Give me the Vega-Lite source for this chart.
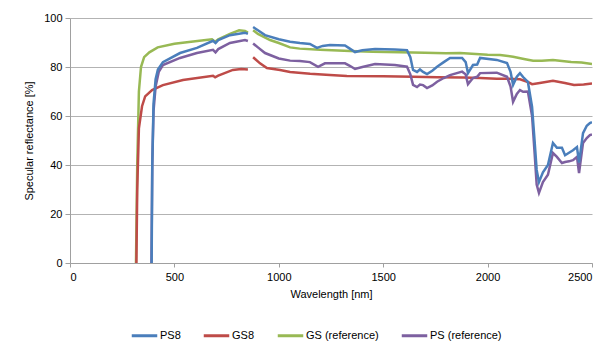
{
  "$schema": "https://vega.github.io/schema/vega-lite/v6.json",
  "width": 522,
  "height": 245,
  "autosize": {"type": "none"},
  "padding": {"left": 70, "top": 18, "right": 19, "bottom": 81},
  "background": "white",
  "config": {
    "font": "Liberation Sans",
    "view": {"stroke": null},
    "axis": {"labelFont": "Liberation Sans", "titleFont": "Liberation Sans", "labelFontSize": 11, "titleFontSize": 11, "titleFontWeight": "normal", "labelColor": "#000", "titleColor": "#000", "domainColor": "#a0a0a0", "tickColor": "#a0a0a0"}
  },
  "datasets": {
    "spec": [
      {"s":"GS (reference)","p":1,"x":316,"y":0},{"s":"GS (reference)","p":1,"x":322,"y":40},{"s":"GS (reference)","p":1,"x":330,"y":70},{"s":"GS (reference)","p":1,"x":340,"y":80},{"s":"GS (reference)","p":1,"x":355,"y":84},{"s":"GS (reference)","p":1,"x":380,"y":86},{"s":"GS (reference)","p":1,"x":420,"y":88},{"s":"GS (reference)","p":1,"x":500,"y":89.5},{"s":"GS (reference)","p":1,"x":600,"y":90.5},{"s":"GS (reference)","p":1,"x":680,"y":91.3},{"s":"GS (reference)","p":1,"x":695,"y":90.3},{"s":"GS (reference)","p":1,"x":710,"y":91.3},{"s":"GS (reference)","p":1,"x":766,"y":93.5},{"s":"GS (reference)","p":1,"x":810,"y":95},{"s":"GS (reference)","p":1,"x":838,"y":94.7},{"s":"GS (reference)","p":1,"x":852,"y":94},
      {"s":"GS (reference)","p":2,"x":877,"y":95},{"s":"GS (reference)","p":2,"x":900,"y":93.5},{"s":"GS (reference)","p":2,"x":958,"y":91},{"s":"GS (reference)","p":2,"x":1000,"y":89.8},{"s":"GS (reference)","p":2,"x":1054,"y":88},{"s":"GS (reference)","p":2,"x":1100,"y":87.5},{"s":"GS (reference)","p":2,"x":1197,"y":87},{"s":"GS (reference)","p":2,"x":1341,"y":86.5},{"s":"GS (reference)","p":2,"x":1450,"y":86.2},{"s":"GS (reference)","p":2,"x":1580,"y":86},{"s":"GS (reference)","p":2,"x":1700,"y":85.8},{"s":"GS (reference)","p":2,"x":1800,"y":85.6},{"s":"GS (reference)","p":2,"x":1868,"y":85.7},{"s":"GS (reference)","p":2,"x":2000,"y":85},{"s":"GS (reference)","p":2,"x":2060,"y":84.9},{"s":"GS (reference)","p":2,"x":2122,"y":84.2},{"s":"GS (reference)","p":2,"x":2180,"y":83.2},{"s":"GS (reference)","p":2,"x":2218,"y":82.6},{"s":"GS (reference)","p":2,"x":2260,"y":82.6},{"s":"GS (reference)","p":2,"x":2313,"y":82.9},{"s":"GS (reference)","p":2,"x":2400,"y":82},{"s":"GS (reference)","p":2,"x":2450,"y":81.8},{"s":"GS (reference)","p":2,"x":2500,"y":81.2},

      {"s":"GS8","p":1,"x":318,"y":0},{"s":"GS8","p":1,"x":322,"y":30},{"s":"GS8","p":1,"x":330,"y":55},{"s":"GS8","p":1,"x":345,"y":64},{"s":"GS8","p":1,"x":360,"y":68},{"s":"GS8","p":1,"x":393,"y":70.6},{"s":"GS8","p":1,"x":445,"y":72.6},{"s":"GS8","p":1,"x":541,"y":74.7},{"s":"GS8","p":1,"x":685,"y":76.4},{"s":"GS8","p":1,"x":695,"y":75.8},{"s":"GS8","p":1,"x":710,"y":76.5},{"s":"GS8","p":1,"x":780,"y":78.8},{"s":"GS8","p":1,"x":820,"y":79.2},{"s":"GS8","p":1,"x":852,"y":79},
      {"s":"GS8","p":2,"x":877,"y":84},{"s":"GS8","p":2,"x":910,"y":81.5},{"s":"GS8","p":2,"x":943,"y":79.6},{"s":"GS8","p":2,"x":1006,"y":78.8},{"s":"GS8","p":2,"x":1054,"y":78},{"s":"GS8","p":2,"x":1150,"y":77.2},{"s":"GS8","p":2,"x":1245,"y":76.7},{"s":"GS8","p":2,"x":1326,"y":76.3},{"s":"GS8","p":2,"x":1500,"y":76.2},{"s":"GS8","p":2,"x":1643,"y":76},{"s":"GS8","p":2,"x":1760,"y":75.8},{"s":"GS8","p":2,"x":1883,"y":75.7},{"s":"GS8","p":2,"x":1964,"y":75.5},{"s":"GS8","p":2,"x":2044,"y":75.2},{"s":"GS8","p":2,"x":2100,"y":75.2},{"s":"GS8","p":2,"x":2155,"y":75},{"s":"GS8","p":2,"x":2190,"y":74},{"s":"GS8","p":2,"x":2213,"y":73},{"s":"GS8","p":2,"x":2250,"y":73.5},{"s":"GS8","p":2,"x":2313,"y":74.4},{"s":"GS8","p":2,"x":2370,"y":73.5},{"s":"GS8","p":2,"x":2414,"y":72.7},{"s":"GS8","p":2,"x":2460,"y":72.9},{"s":"GS8","p":2,"x":2500,"y":73.3},

      {"s":"PS (reference)","p":1,"x":390,"y":0},{"s":"PS (reference)","p":1,"x":394,"y":40},{"s":"PS (reference)","p":1,"x":400,"y":62},{"s":"PS (reference)","p":1,"x":410,"y":72},{"s":"PS (reference)","p":1,"x":425,"y":78},{"s":"PS (reference)","p":1,"x":445,"y":80.8},{"s":"PS (reference)","p":1,"x":527,"y":83.7},{"s":"PS (reference)","p":1,"x":608,"y":85.7},{"s":"PS (reference)","p":1,"x":685,"y":87},{"s":"PS (reference)","p":1,"x":697,"y":86},{"s":"PS (reference)","p":1,"x":710,"y":87.3},{"s":"PS (reference)","p":1,"x":766,"y":89.8},{"s":"PS (reference)","p":1,"x":838,"y":91},{"s":"PS (reference)","p":1,"x":852,"y":90.6},
      {"s":"PS (reference)","p":2,"x":877,"y":89.6},{"s":"PS (reference)","p":2,"x":900,"y":88},{"s":"PS (reference)","p":2,"x":934,"y":85.7},{"s":"PS (reference)","p":2,"x":1000,"y":83.5},{"s":"PS (reference)","p":2,"x":1054,"y":82.6},{"s":"PS (reference)","p":2,"x":1101,"y":82.4},{"s":"PS (reference)","p":2,"x":1149,"y":82},{"s":"PS (reference)","p":2,"x":1188,"y":80.1},{"s":"PS (reference)","p":2,"x":1221,"y":81.5},{"s":"PS (reference)","p":2,"x":1317,"y":81.5},{"s":"PS (reference)","p":2,"x":1340,"y":80.5},{"s":"PS (reference)","p":2,"x":1365,"y":79.2},{"s":"PS (reference)","p":2,"x":1400,"y":80},{"s":"PS (reference)","p":2,"x":1461,"y":81.2},{"s":"PS (reference)","p":2,"x":1556,"y":80.8},{"s":"PS (reference)","p":2,"x":1614,"y":80.1},{"s":"PS (reference)","p":2,"x":1630,"y":77},{"s":"PS (reference)","p":2,"x":1643,"y":72.7},{"s":"PS (reference)","p":2,"x":1662,"y":71.8},{"s":"PS (reference)","p":2,"x":1676,"y":72.8},{"s":"PS (reference)","p":2,"x":1691,"y":72.6},{"s":"PS (reference)","p":2,"x":1710,"y":71.4},{"s":"PS (reference)","p":2,"x":1735,"y":72.5},{"s":"PS (reference)","p":2,"x":1758,"y":74},{"s":"PS (reference)","p":2,"x":1790,"y":75.5},{"s":"PS (reference)","p":2,"x":1820,"y":76.7},{"s":"PS (reference)","p":2,"x":1878,"y":78.1},{"s":"PS (reference)","p":2,"x":1895,"y":77},{"s":"PS (reference)","p":2,"x":1906,"y":73},{"s":"PS (reference)","p":2,"x":1930,"y":75.5},{"s":"PS (reference)","p":2,"x":1950,"y":76},{"s":"PS (reference)","p":2,"x":1964,"y":77.5},{"s":"PS (reference)","p":2,"x":2044,"y":77.7},{"s":"PS (reference)","p":2,"x":2093,"y":76},{"s":"PS (reference)","p":2,"x":2110,"y":72},{"s":"PS (reference)","p":2,"x":2122,"y":65.8},{"s":"PS (reference)","p":2,"x":2140,"y":69},{"s":"PS (reference)","p":2,"x":2155,"y":70.6},{"s":"PS (reference)","p":2,"x":2170,"y":69.9},{"s":"PS (reference)","p":2,"x":2193,"y":70},{"s":"PS (reference)","p":2,"x":2213,"y":60},{"s":"PS (reference)","p":2,"x":2225,"y":45},{"s":"PS (reference)","p":2,"x":2235,"y":32},{"s":"PS (reference)","p":2,"x":2246,"y":28.6},{"s":"PS (reference)","p":2,"x":2265,"y":33},{"s":"PS (reference)","p":2,"x":2289,"y":36},{"s":"PS (reference)","p":2,"x":2313,"y":44.9},{"s":"PS (reference)","p":2,"x":2332,"y":43.3},{"s":"PS (reference)","p":2,"x":2356,"y":40.8},{"s":"PS (reference)","p":2,"x":2371,"y":41.2},{"s":"PS (reference)","p":2,"x":2390,"y":41.5},{"s":"PS (reference)","p":2,"x":2409,"y":42},{"s":"PS (reference)","p":2,"x":2428,"y":43.3},{"s":"PS (reference)","p":2,"x":2438,"y":36.7},{"s":"PS (reference)","p":2,"x":2457,"y":49},{"s":"PS (reference)","p":2,"x":2475,"y":51},{"s":"PS (reference)","p":2,"x":2490,"y":52.2},{"s":"PS (reference)","p":2,"x":2500,"y":52.5},

      {"s":"PS8","p":1,"x":391,"y":0},{"s":"PS8","p":1,"x":394,"y":40},{"s":"PS8","p":1,"x":400,"y":65},{"s":"PS8","p":1,"x":410,"y":75},{"s":"PS8","p":1,"x":421,"y":79},{"s":"PS8","p":1,"x":445,"y":82},{"s":"PS8","p":1,"x":527,"y":85.7},{"s":"PS8","p":1,"x":608,"y":87.8},{"s":"PS8","p":1,"x":685,"y":90.7},{"s":"PS8","p":1,"x":697,"y":89.8},{"s":"PS8","p":1,"x":710,"y":91},{"s":"PS8","p":1,"x":766,"y":93},{"s":"PS8","p":1,"x":838,"y":94},{"s":"PS8","p":1,"x":852,"y":93.5},
      {"s":"PS8","p":2,"x":877,"y":96.3},{"s":"PS8","p":2,"x":900,"y":95},{"s":"PS8","p":2,"x":934,"y":93},{"s":"PS8","p":2,"x":1000,"y":91.3},{"s":"PS8","p":2,"x":1054,"y":90.3},{"s":"PS8","p":2,"x":1101,"y":89.8},{"s":"PS8","p":2,"x":1149,"y":89.4},{"s":"PS8","p":2,"x":1183,"y":87.8},{"s":"PS8","p":2,"x":1210,"y":88.6},{"s":"PS8","p":2,"x":1245,"y":89},{"s":"PS8","p":2,"x":1317,"y":88.8},{"s":"PS8","p":2,"x":1340,"y":87.5},{"s":"PS8","p":2,"x":1365,"y":86.1},{"s":"PS8","p":2,"x":1400,"y":86.8},{"s":"PS8","p":2,"x":1461,"y":87.3},{"s":"PS8","p":2,"x":1556,"y":87.1},{"s":"PS8","p":2,"x":1614,"y":86.9},{"s":"PS8","p":2,"x":1630,"y":84},{"s":"PS8","p":2,"x":1643,"y":78.8},{"s":"PS8","p":2,"x":1662,"y":78},{"s":"PS8","p":2,"x":1676,"y":79},{"s":"PS8","p":2,"x":1691,"y":78},{"s":"PS8","p":2,"x":1710,"y":77.1},{"s":"PS8","p":2,"x":1735,"y":78.5},{"s":"PS8","p":2,"x":1758,"y":80.1},{"s":"PS8","p":2,"x":1790,"y":82},{"s":"PS8","p":2,"x":1820,"y":83.7},{"s":"PS8","p":2,"x":1878,"y":83.7},{"s":"PS8","p":2,"x":1895,"y":82},{"s":"PS8","p":2,"x":1906,"y":77.5},{"s":"PS8","p":2,"x":1930,"y":80.8},{"s":"PS8","p":2,"x":1950,"y":81},{"s":"PS8","p":2,"x":1964,"y":83.7},{"s":"PS8","p":2,"x":2044,"y":82.9},{"s":"PS8","p":2,"x":2093,"y":81.6},{"s":"PS8","p":2,"x":2110,"y":78},{"s":"PS8","p":2,"x":2122,"y":72.7},{"s":"PS8","p":2,"x":2140,"y":76},{"s":"PS8","p":2,"x":2155,"y":77.5},{"s":"PS8","p":2,"x":2170,"y":75.9},{"s":"PS8","p":2,"x":2193,"y":73.9},{"s":"PS8","p":2,"x":2213,"y":63.7},{"s":"PS8","p":2,"x":2225,"y":50},{"s":"PS8","p":2,"x":2235,"y":38},{"s":"PS8","p":2,"x":2246,"y":33},{"s":"PS8","p":2,"x":2265,"y":37},{"s":"PS8","p":2,"x":2289,"y":40},{"s":"PS8","p":2,"x":2313,"y":49},{"s":"PS8","p":2,"x":2332,"y":47},{"s":"PS8","p":2,"x":2356,"y":47},{"s":"PS8","p":2,"x":2371,"y":44},{"s":"PS8","p":2,"x":2390,"y":45},{"s":"PS8","p":2,"x":2409,"y":46},{"s":"PS8","p":2,"x":2428,"y":47.3},{"s":"PS8","p":2,"x":2438,"y":41},{"s":"PS8","p":2,"x":2457,"y":53},{"s":"PS8","p":2,"x":2475,"y":56},{"s":"PS8","p":2,"x":2490,"y":57.1},{"s":"PS8","p":2,"x":2500,"y":57.5}
    ]
  },
  "data": {"name": "spec"},
  "mark": {"type": "line", "strokeWidth": 2.5, "interpolate": "linear", "clip": true},
  "encoding": {
    "x": {"field": "x", "type": "quantitative", "title": "Wavelength [nm]",
      "scale": {"domain": [0, 2500], "nice": false},
      "axis": {"values": [0, 500, 1000, 1500, 2000, 2500], "format": "d", "grid": false, "tickSize": 4, "labelPadding": 4, "titlePadding": 6}},
    "y": {"field": "y", "type": "quantitative", "title": "Specular reflectance [%]",
      "scale": {"domain": [0, 100], "nice": false},
      "axis": {"values": [0, 20, 40, 60, 80, 100], "format": "d", "grid": true, "gridColor": "#b3b3b3", "tickSize": 5, "labelPadding": 3, "titlePadding": 9}},
    "color": {"field": "s", "type": "nominal", "title": null,
      "scale": {"domain": ["PS8", "GS8", "GS (reference)", "PS (reference)"], "range": ["#4a7ebb", "#be4b48", "#98b954", "#7d60a0"]},
      "legend": {"orient": "none", "legendX": 60, "legendY": 303, "direction": "horizontal", "symbolType": "stroke", "symbolSize": 650, "symbolStrokeWidth": 3, "labelFontSize": 11, "labelFont": "Liberation Sans", "labelColor": "#000", "columnPadding": 16, "symbolOffset": 0, "labelOffset": 1}},
    "detail": {"field": "p", "type": "nominal"},
    "order": {"field": "x", "type": "quantitative"}
  }
}
